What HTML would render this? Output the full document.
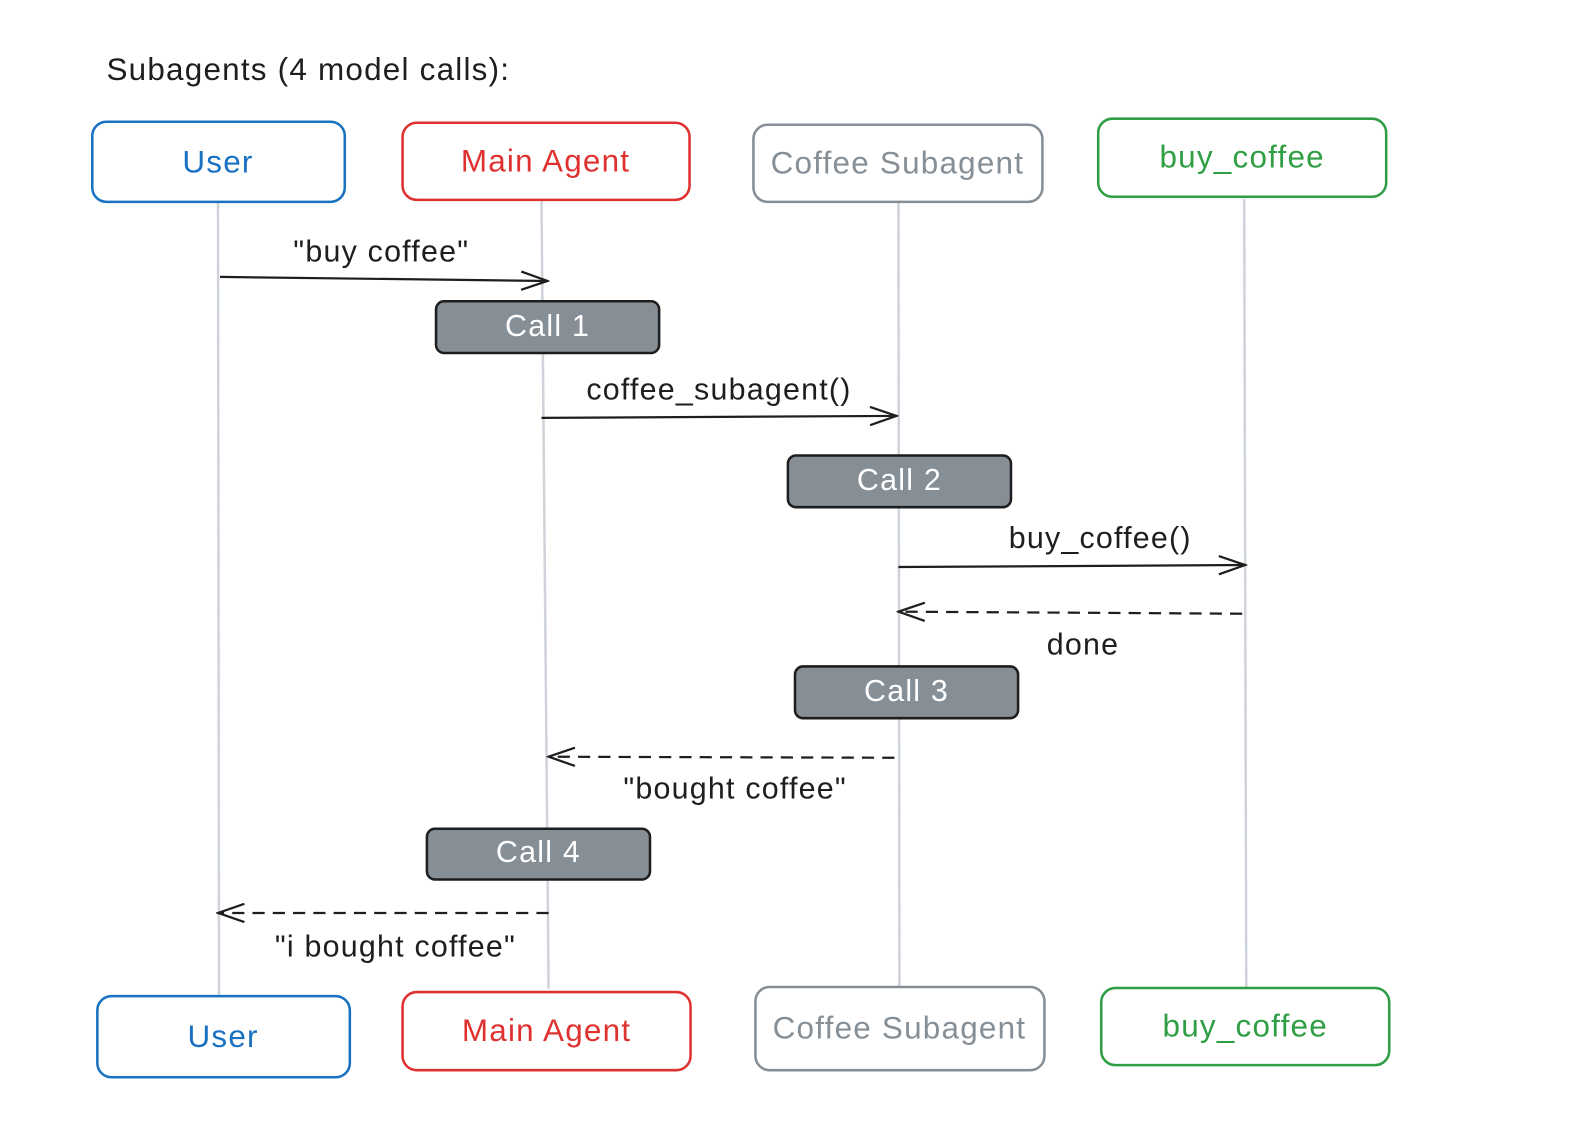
<!DOCTYPE html>
<html><head><meta charset="utf-8"><style>
html,body{margin:0;padding:0;background:#fff;}
svg{display:block;}
text{font-family:"Liberation Sans",sans-serif;letter-spacing:1.2px;}
</style></head><body>
<svg width="1590" height="1128" viewBox="0 0 1568 1112" preserveAspectRatio="none" xmlns="http://www.w3.org/2000/svg">
<defs>
<marker id="ah" markerWidth="30" markerHeight="20" refX="28" refY="10" orient="auto" markerUnits="userSpaceOnUse">
<path d="M2,1 L28,10 L2,19" fill="none" stroke="#1e1e1e" stroke-width="2.2"/>
</marker>
</defs>
<rect width="1568" height="1112" fill="#fff"/>
<text x="105" y="79" font-size="31" fill="#1e1e1e">Subagents (4 model calls):</text>

<g stroke="#ced4da" stroke-width="2.5">
<line x1="215" y1="200" x2="216" y2="982"/>
<line x1="534" y1="198" x2="541" y2="975"/>
<line x1="886" y1="200" x2="887" y2="972"/>
<line x1="1227" y1="196" x2="1229" y2="974"/>
</g>

<g fill="#fff" stroke-width="2.5">
<rect x="91" y="120" width="249" height="79" rx="14" stroke="#1971c2"/>
<rect x="397" y="121" width="283" height="76" rx="14" stroke="#e03131"/>
<rect x="743" y="123" width="285" height="76" rx="14" stroke="#868e96"/>
<rect x="1083" y="117" width="284" height="77" rx="14" stroke="#2f9e44"/>
<rect x="96" y="982" width="249" height="80" rx="14" stroke="#1971c2"/>
<rect x="397" y="978" width="284" height="77" rx="14" stroke="#e03131"/>
<rect x="745" y="973" width="285" height="82" rx="14" stroke="#868e96"/>
<rect x="1086" y="974" width="284" height="76" rx="14" stroke="#2f9e44"/>
</g>
<g font-size="31" text-anchor="middle">
<text x="215" y="170" fill="#1971c2">User</text>
<text x="538" y="169" fill="#e03131">Main Agent</text>
<text x="885" y="171" fill="#868e96">Coffee Subagent</text>
<text x="1225" y="165" fill="#2f9e44">buy_coffee</text>
<text x="220" y="1032" fill="#1971c2">User</text>
<text x="539" y="1026" fill="#e03131">Main Agent</text>
<text x="887" y="1024" fill="#868e96">Coffee Subagent</text>
<text x="1228" y="1022" fill="#2f9e44">buy_coffee</text>
</g>

<g fill="#868e96" stroke="#1e1e1e" stroke-width="2.5">
<rect x="430" y="297" width="220" height="51" rx="8"/>
<rect x="777" y="449" width="220" height="51" rx="8"/>
<rect x="784" y="657" width="220" height="51" rx="8"/>
<rect x="421" y="817" width="220" height="50" rx="8"/>
</g>
<g font-size="30" fill="#fff" text-anchor="middle">
<text x="540" y="331">Call 1</text>
<text x="887" y="483">Call 2</text>
<text x="894" y="691">Call 3</text>
<text x="531" y="850">Call 4</text>
</g>

<g stroke="#1e1e1e" stroke-width="2.2" fill="none">
<line x1="217" y1="273" x2="540" y2="277" marker-end="url(#ah)"/>
<line x1="534" y1="412" x2="884" y2="410" marker-end="url(#ah)"/>
<line x1="886" y1="559" x2="1228" y2="557" marker-end="url(#ah)"/>
<line x1="1225" y1="605" x2="886" y2="603" stroke-dasharray="12,8" marker-end="url(#ah)"/>
<line x1="882" y1="747" x2="541" y2="746" stroke-dasharray="12,8" marker-end="url(#ah)"/>
<line x1="541" y1="900" x2="215" y2="900" stroke-dasharray="12,8" marker-end="url(#ah)"/>
</g>
<g font-size="30" fill="#1e1e1e" text-anchor="middle">
<text x="376" y="258">"buy coffee"</text>
<text x="709" y="394">coffee_subagent()</text>
<text x="1085" y="540">buy_coffee()</text>
<text x="1068" y="645">done</text>
<text x="725" y="787">"bought coffee"</text>
<text x="390" y="943">"i bought coffee"</text>
</g>
</svg>
</body></html>
